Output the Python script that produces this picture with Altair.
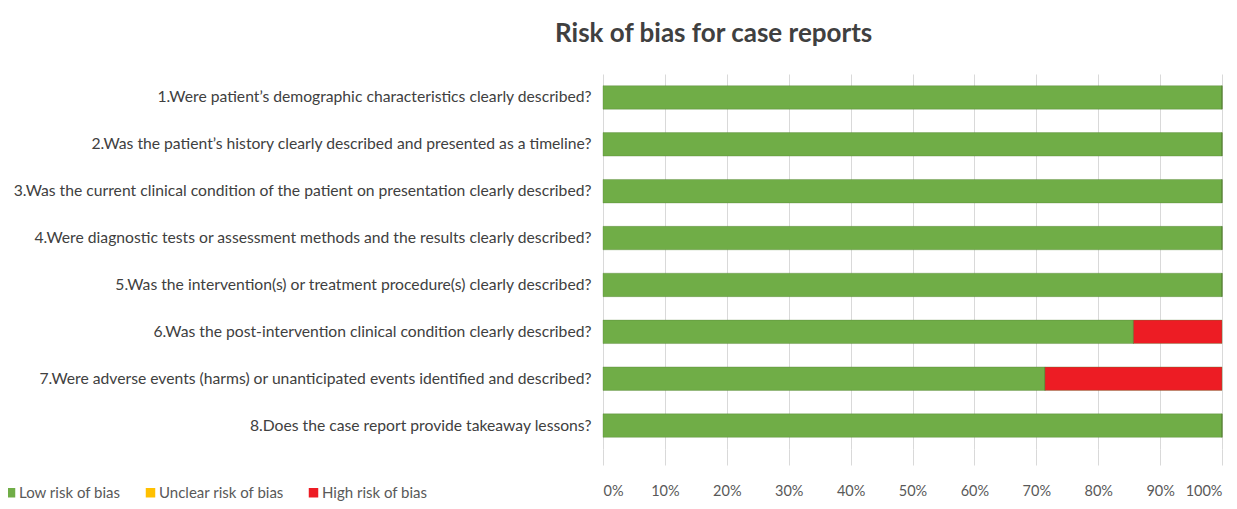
import altair as alt
import pandas as pd

questions = [
    "1.Were patient’s demographic characteristics clearly described?",
    "2.Was the patient’s history clearly described and presented as a timeline?",
    "3.Was the current clinical condition of the patient on presentation clearly described?",
    "4.Were diagnostic tests or assessment methods and the results clearly described?",
    "5.Was the intervention(s) or treatment procedure(s) clearly described?",
    "6.Was the post-intervention clinical condition clearly described?",
    "7.Were adverse events (harms) or unanticipated events identified and described?",
    "8.Does the case report provide takeaway lessons?",
]
low = [1.0, 1.0, 1.0, 1.0, 1.0, 0.857, 0.714, 1.0]
unclear = [0, 0, 0, 0, 0, 0, 0, 0]
high = [0, 0, 0, 0, 0, 0.143, 0.286, 0]

categories = ["Low risk of bias", "Unclear risk of bias", "High risk of bias"]
colors = ["#70AD47", "#FFC000", "#ED1C24"]

FONT = "Lato"

rows = []
for i, q in enumerate(questions):
    for k, (cat, vals) in enumerate(zip(categories, [low, unclear, high])):
        rows.append({"question": q, "risk": cat, "value": vals[i], "ord": k})
df = pd.DataFrame(rows)

chart = alt.Chart(df).mark_bar(stroke="#548235", strokeWidth=0.6, strokeOpacity=0.6).encode(
    y=alt.Y("question:N", sort=questions, title=None,
            scale=alt.Scale(paddingInner=0.5, paddingOuter=0.25),
            axis=alt.Axis(labelFont=FONT, labelFontSize=15.7,
                          labelColor="#404040", labelLimit=700, ticks=False,
                          domain=False, labelPadding=12)),
    x=alt.X("value:Q", stack="zero", title=None,
            scale=alt.Scale(domain=[0, 1], nice=False),
            axis=alt.Axis(format=".0%", values=[i / 10 for i in range(11)],
                          labelFont=FONT, labelFontSize=14.5,
                          labelColor="#595959", grid=True, gridColor="#D9D9D9",
                          domain=False, ticks=True, tickSize=16, tickColor="#D9D9D9",
                          labelPadding=19)),
    color=alt.Color("risk:N", scale=alt.Scale(domain=categories, range=colors),
                    legend=alt.Legend(title=None, orient="none", direction="horizontal",
                                      legendX=-600, legendY=411, symbolType="square",
                                      symbolSize=90, symbolStrokeWidth=0,
                                      labelFont=FONT, labelFontSize=15,
                                      labelColor="#595959", columnPadding=22,
                                      labelOffset=1)),
    order=alt.Order("ord:Q"),
).properties(
    width=619,
    height=375,
    title=alt.TitleParams("Risk of bias for case reports", anchor="start", dx=-48,
                          frame="group", font=FONT, fontSize=26, fontWeight="bold",
                          color="#404040", offset=27),
    autosize=alt.AutoSizeParams(type="none"),
    padding={"left": 595, "top": 66, "right": 7, "bottom": 52},
).configure_view(stroke=None)

chart.save("out.html", embed_options={"renderer": "svg", "actions": False})
